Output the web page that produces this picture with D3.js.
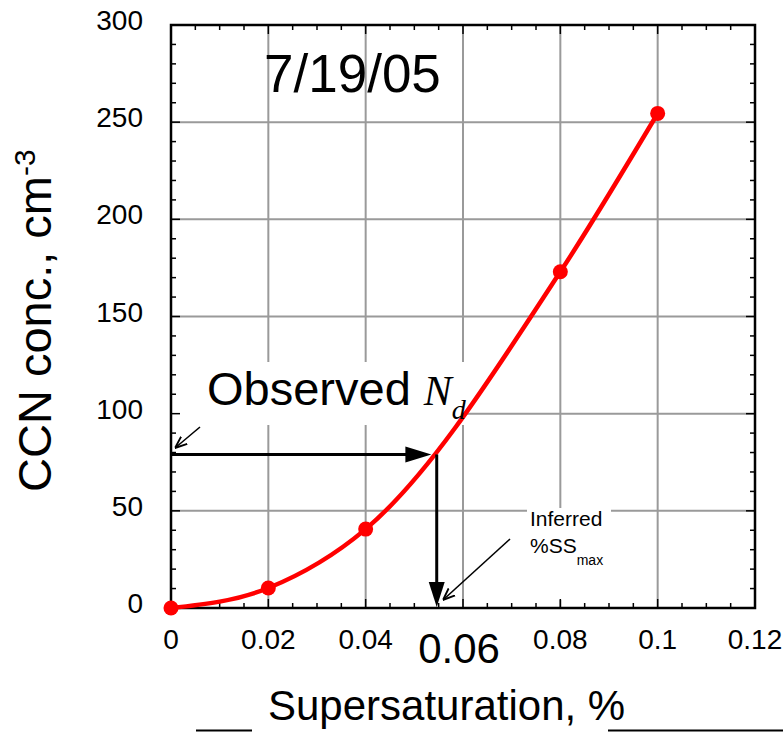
<!DOCTYPE html>
<html><head><meta charset="utf-8">
<script src="https://cdn.jsdelivr.net/npm/d3@7"></script>
<style>
body{margin:0;background:#fff}
text{font-family:"Liberation Sans",Arial,Helvetica,sans-serif;fill:#000}
</style>
</head><body>
<svg id="chart" width="783" height="732"></svg>
<script>
// ---- data ----
const supersat = [0, 0.02, 0.04, 0.08, 0.1];
const ccnConc = [0, 10.3, 40.6, 173, 254.5];
const xTickValues = [0, 0.02, 0.04, 0.06, 0.08, 0.1, 0.12];
const xTickLabels = ["0", "0.02", "0.04", "0.06", "0.08", "0.1", "0.12"];
const yTickValues = [0, 50, 100, 150, 200, 250, 300];
const yTickLabels = ["0", "50", "100", "150", "200", "250", "300"];
const highlightedX = 0.06;
const observedNd = 79;          // CCN conc. read at observed droplet number
const observedArrowEnd = 0.0535; // where horizontal arrow stops
const inferredSS = 0.0546;      // inferred %SSmax
const titleText = "7/19/05";

// ---- layout ----
const svg = d3.select("#chart");
svg.append("rect").attr("width",783).attr("height",732).attr("fill","#fff");
const L = 171, R = 755, T = 25, B = 608;
const x = d3.scaleLinear().domain([0, 0.12]).range([L, R]);
const y = d3.scaleLinear().domain([0, 300]).range([B, T]);

// gridlines
const grid = svg.append("g").attr("stroke", "#9a9a9a").attr("stroke-width", 2);
grid.selectAll(".gx").data(xTickValues.filter(v => v > 0 && v < 0.12)).enter()
  .append("line").attr("x1", d => x(d)).attr("x2", d => x(d)).attr("y1", T).attr("y2", B);
grid.selectAll(".gy").data(yTickValues.filter(v => v > 0 && v < 300)).enter()
  .append("line").attr("y1", d => y(d)).attr("y2", d => y(d)).attr("x1", L).attr("x2", R);

// white label boxes covering grid
svg.append("rect").attr("x", L + 1).attr("y", 362).attr("width", 295).attr("height", 63).attr("fill", "#fff");
svg.append("rect").attr("x", 527).attr("y", 508).attr("width", 84).attr("height", 92).attr("fill", "#fff");

// ticks (inward, all four sides)
const tk = svg.append("g").attr("stroke", "#000").attr("stroke-width", 1.5);
const xMinor = d3.range(0, 0.12001, 0.005);
const yMinor = d3.range(0, 300.01, 10);
xMinor.forEach(v => {
  const major = Math.abs(v / 0.02 - Math.round(v / 0.02)) < 1e-6;
  const len = major ? 9 : 5;
  tk.append("line").attr("x1", x(v)).attr("x2", x(v)).attr("y1", B).attr("y2", B - len);
  tk.append("line").attr("x1", x(v)).attr("x2", x(v)).attr("y1", T).attr("y2", T + len);
});
yMinor.forEach(v => {
  const major = Math.abs(v / 50 - Math.round(v / 50)) < 1e-6;
  const len = major ? 9 : 5;
  tk.append("line").attr("y1", y(v)).attr("y2", y(v)).attr("x1", L).attr("x2", L + len);
  tk.append("line").attr("y1", y(v)).attr("y2", y(v)).attr("x1", R).attr("x2", R - len);
});

// frame
svg.append("rect").attr("x", L).attr("y", T).attr("width", R - L).attr("height", B - T)
  .attr("fill", "none").attr("stroke", "#000").attr("stroke-width", 2.5);

// tick labels
svg.append("g").selectAll("text").data(yTickValues).enter().append("text")
  .attr("x", 143).attr("y", d => y(d) + 5).attr("text-anchor", "end")
  .attr("font-size", 28).text((d, i) => yTickLabels[i]);
svg.append("g").selectAll("text").data(xTickValues).enter().append("text")
  .attr("x", d => x(d) + (d === highlightedX ? -4 : 0))
  .attr("y", d => d === highlightedX ? 663 : 649)
  .attr("text-anchor", "middle")
  .attr("font-size", d => d === highlightedX ? 42 : 28)
  .text((d, i) => xTickLabels[i]);

// axis titles
const yl = svg.append("text").attr("transform", "translate(51,492) rotate(-90)")
  .attr("font-size", 47);
yl.append("tspan").text("CCN conc., cm");
yl.append("tspan").attr("font-size", 30).attr("dy", -16).text("-3");

svg.append("text").attr("x", 268).attr("y", 720).attr("font-size", 42).text("Supersaturation, %");
svg.append("line").attr("x1", 196).attr("x2", 252).attr("y1", 730.5).attr("y2", 730.5).attr("stroke", "#000").attr("stroke-width", 2);
svg.append("line").attr("x1", 608).attr("x2", 783).attr("y1", 730.5).attr("y2", 730.5).attr("stroke", "#000").attr("stroke-width", 2);

// title
svg.append("text").attr("x", 264).attr("y", 92).attr("font-size", 53).text(titleText);

// curve
const pts = supersat.map((s, i) => [s, ccnConc[i]]);
const line = d3.line().x(d => x(d[0])).y(d => y(d[1])).curve(d3.curveMonotoneX);
svg.append("path").datum(pts).attr("d", line).attr("fill", "none")
  .attr("stroke", "#ff0000").attr("stroke-width", 4.5).attr("stroke-linejoin", "round");
svg.append("g").selectAll("circle").data(pts).enter().append("circle")
  .attr("cx", d => x(d[0])).attr("cy", d => y(d[1])).attr("r", 7.5).attr("fill", "#ff0000");

// arrows
const defs = svg.append("defs");
defs.append("marker").attr("id", "openHead").attr("viewBox", "0 0 10 10")
  .attr("refX", 10).attr("refY", 5).attr("markerWidth", 12).attr("markerHeight", 12)
  .attr("markerUnits", "userSpaceOnUse").attr("orient", "auto")
  .append("path").attr("d", "M0,1 L10,5 L0,9").attr("fill", "none").attr("stroke", "#000").attr("stroke-width", 1.6);

// horizontal filled arrow
const hy = y(observedNd), hx2 = x(observedArrowEnd);
svg.append("line").attr("x1", L).attr("x2", hx2 - 20).attr("y1", hy).attr("y2", hy)
  .attr("stroke", "#000").attr("stroke-width", 3);
svg.append("path").attr("d", `M${hx2},${hy} L${hx2 - 26},${hy - 8} L${hx2 - 26},${hy + 8} Z`).attr("fill", "#000");
// vertical filled arrow
const vx = x(inferredSS);
svg.append("line").attr("x1", vx).attr("x2", vx).attr("y1", hy).attr("y2", B - 20)
  .attr("stroke", "#000").attr("stroke-width", 3);
svg.append("path").attr("d", `M${vx},${B - 1} L${vx - 8},${B - 26} L${vx + 8},${B - 26} Z`).attr("fill", "#000");

// thin pointer arrows
svg.append("line").attr("x1", 200).attr("y1", 427).attr("x2", 175).attr("y2", 448)
  .attr("stroke", "#000").attr("stroke-width", 1.6).attr("marker-end", "url(#openHead)");
svg.append("line").attr("x1", 510).attr("y1", 539).attr("x2", 443).attr("y2", 600)
  .attr("stroke", "#000").attr("stroke-width", 1.6).attr("marker-end", "url(#openHead)");

// annotations
const obs = svg.append("text").attr("x", 207).attr("y", 405).attr("font-size", 47);
obs.append("tspan").text("Observed ");
obs.append("tspan").attr("font-family", "'Liberation Serif','Times New Roman',serif")
  .attr("font-style", "italic").attr("font-size", 42).text("N");
obs.append("tspan").attr("font-family", "'Liberation Serif','Times New Roman',serif")
  .attr("font-style", "italic").attr("font-size", 28).attr("dy", 14).text("d");

svg.append("text").attr("x", 530).attr("y", 526).attr("font-size", 21).text("Inferred");
const ss = svg.append("text").attr("x", 530).attr("y", 553).attr("font-size", 21);
ss.append("tspan").text("%SS");
ss.append("tspan").attr("font-size", 14).attr("dy", 12).text("max");
</script>
</body></html>
